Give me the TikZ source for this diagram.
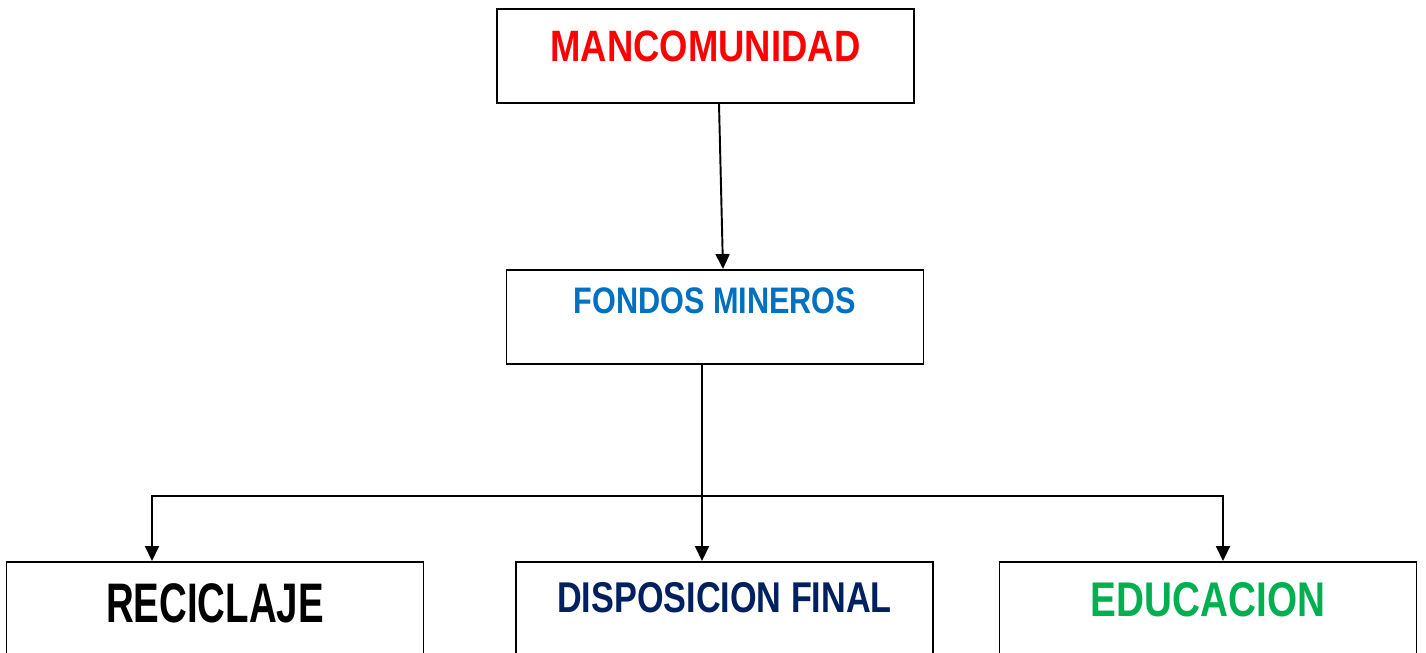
\documentclass[tikz,border=0pt]{standalone}
\usepackage{fontspec}
\setmainfont{Liberation Sans}[FakeStretch=0.83]
\newfontfamily\midfont{Liberation Sans}[FakeStretch=0.795]
\newfontfamily\narrowfont{Liberation Sans}[FakeStretch=0.69]
\usetikzlibrary{arrows.meta}
\definecolor{mancred}{HTML}{FF0000}
\definecolor{fondblue}{HTML}{0070C0}
\definecolor{dispblue}{HTML}{002060}
\definecolor{edugreen}{HTML}{00B050}
\begin{document}
\begin{tikzpicture}[line width=1.1pt,
    main node/.style={rectangle,draw,minimum width=8.34cm,inner xsep=0pt,inner ysep=0pt,font=\bfseries},
    conn/.style={-{Triangle[length=0.3cm,width=0.28cm]}}]
        \useasboundingbox (0,0) rectangle (28.52,13.06);
        \node[main node, text height=1.06cm, text depth=0.82cm, text=mancred, font=\bfseries\fontsize{25}{30}\selectfont] at (14.11, 11.94) (manc) {MANCOMUNIDAD};
        \node[main node, text height=0.88cm, text depth=1.0cm, text=fondblue, font=\bfseries\fontsize{21}{25}\selectfont] at (14.30, 6.72) (fondos) {FONDOS MINEROS};
        \node[main node, text height=1.22cm, text depth=0.66cm, font=\narrowfont\bfseries\fontsize{31.7}{36}\selectfont] at (4.30, 0.88) (recic) {RECICLAJE};
        \node[main node, text height=1.02cm, text depth=0.86cm, text=dispblue, font=\midfont\bfseries\fontsize{24.5}{29}\selectfont] at (14.49, 0.88) (disp) {DISPOSICION FINAL};
        \node[main node, text height=1.10cm, text depth=0.78cm, text=edugreen, font=\midfont\bfseries\fontsize{27.7}{32}\selectfont] at (24.16, 0.88) (educ) {EDUCACION};

        \coordinate (bus) at (14.04, 3.14);
        \draw[conn] ([xshift=0.27cm]manc.south) -- ([xshift=0.16cm]fondos.north);
        \draw[conn] ([xshift=-0.26cm]fondos.south) -- ([xshift=-0.45cm]disp.north);
        \draw[conn] (bus) -| ([xshift=-1.26cm]recic.north);
        \draw[conn] (bus) -| ([xshift=0.30cm]educ.north);
\end{tikzpicture}
\end{document}
